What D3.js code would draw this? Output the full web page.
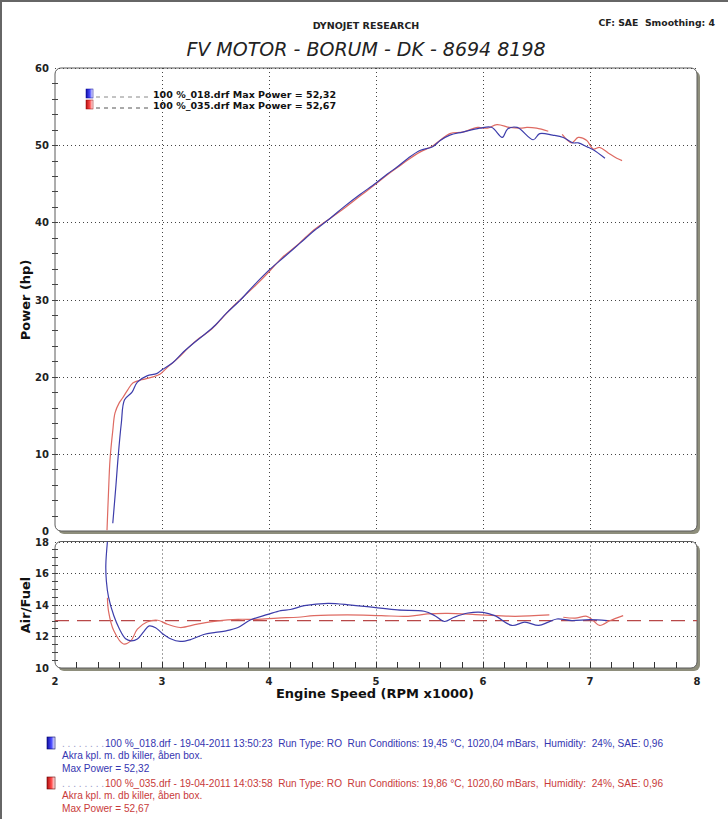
<!DOCTYPE html>
<html><head><meta charset="utf-8">
<script src="https://cdn.jsdelivr.net/npm/d3@7"></script>
<style>body{margin:0;background:#fff}svg{display:block}text{white-space:pre}</style>
</head><body><div id="chart"></div>
<script>
// ---- data (rpm x1000, value) ----
const powerBlue = [[2.54,1.0],[2.57,6.0],[2.59,9.6],[2.62,14.0],[2.65,17.0],[2.72,18.0],[2.77,19.3],[2.86,20.1],[2.95,20.4],[3.0,20.9],[3.1,21.8],[3.2,23.2],[3.3,24.4],[3.4,25.5],[3.5,26.7],[3.6,28.2],[3.73,29.9],[3.85,31.7],[4.0,33.8],[4.15,35.6],[4.29,37.3],[4.43,39.0],[4.57,40.5],[4.7,42.0],[4.85,43.6],[5.0,45.1],[5.1,46.2],[5.2,47.2],[5.3,48.3],[5.41,49.3],[5.53,49.8],[5.6,50.6],[5.69,51.3],[5.81,51.7],[5.97,52.2],[6.08,52.32],[6.18,51.0],[6.23,52.1],[6.32,52.3],[6.47,50.7],[6.53,51.5],[6.65,51.3],[6.75,51.0],[6.84,50.3],[6.89,50.3],[6.97,49.8],[7.03,49.4],[7.14,48.3]];
const powerRed = [[2.486,0.1],[2.5,5.0],[2.514,9.2],[2.54,13.0],[2.561,15.3],[2.6,16.6],[2.63,17.2],[2.68,18.3],[2.73,19.2],[2.81,19.6],[2.9,19.9],[2.98,20.3],[3.05,21.2],[3.15,22.4],[3.25,23.8],[3.35,25.0],[3.45,26.0],[3.55,27.4],[3.65,28.9],[3.75,30.2],[3.88,31.9],[4.0,33.6],[4.12,35.4],[4.26,37.0],[4.4,38.8],[4.55,40.3],[4.7,41.8],[4.85,43.4],[5.0,45.0],[5.1,46.1],[5.2,47.1],[5.3,48.1],[5.41,49.1],[5.53,49.9],[5.69,51.5],[5.81,51.7],[5.95,52.3],[6.04,52.2],[6.13,52.67],[6.25,52.3],[6.35,52.2],[6.41,52.3],[6.5,52.2],[6.61,51.8],[6.67,null],[6.74,51.4],[6.83,50.3],[6.89,51.0],[6.97,50.6],[7.03,49.5],[7.09,49.7],[7.17,49.0],[7.25,48.3],[7.3,48.0]];
const afrBlue = [[2.49,18.0],[2.475,16.5],[2.48,15.5],[2.5,14.5],[2.55,13.3],[2.6,12.5],[2.66,11.85],[2.71,11.72],[2.77,11.83],[2.83,12.3],[2.88,12.66],[2.94,12.55],[3.0,12.2],[3.08,11.85],[3.17,11.68],[3.27,11.8],[3.39,12.12],[3.5,12.25],[3.6,12.35],[3.71,12.56],[3.83,13.05],[3.99,13.39],[4.11,13.63],[4.2,13.7],[4.33,13.94],[4.55,14.09],[4.77,13.98],[4.98,13.84],[5.2,13.67],[5.45,13.59],[5.55,13.31],[5.64,12.94],[5.73,13.21],[5.86,13.48],[6.0,13.52],[6.11,13.31],[6.27,12.69],[6.39,12.9],[6.52,12.69],[6.61,12.9],[6.69,13.1],[6.83,13.0],[7.0,13.06],[7.16,13.0]];
const afrRed = [[2.49,14.44],[2.5,13.6],[2.55,12.35],[2.64,11.52],[2.71,11.73],[2.77,12.46],[2.86,12.91],[2.96,13.02],[3.05,12.77],[3.17,12.56],[3.33,12.77],[3.52,12.98],[3.71,13.08],[3.89,13.08],[4.08,13.16],[4.27,13.21],[4.42,13.31],[4.73,13.36],[5.05,13.31],[5.3,13.27],[5.48,13.42],[5.67,13.46],[5.98,13.36],[6.3,13.27],[6.62,13.36],[6.68,null],[6.75,13.21],[6.86,13.15],[6.97,13.27],[7.03,13.0],[7.09,12.69],[7.19,13.0],[7.31,13.31]];
const afrTarget = 13.0;
const xTicks = [2,3,4,5,6,7,8];
const powerTicks = [0,10,20,30,40,50,60];
const afrTicks = [10,12,14,16,18];
const runs = [
  {name:"100 %_018.drf", max:"52,32", line:"100 %_018.drf - 19-04-2011 13:50:23  Run Type: RO  Run Conditions: 19,45 \u00B0C, 1020,04 mBars,  Humidity:  24%, SAE: 0,96"},
  {name:"100 %_035.drf", max:"52,67", line:"100 %_035.drf - 19-04-2011 14:03:58  Run Type: RO  Run Conditions: 19,86 \u00B0C, 1020,60 mBars,  Humidity:  24%, SAE: 0,96"}
];
const note = "Akra kpl. m. db killer, \u00E5ben box.";

// ---- drawing ----
const W=728,H=819;
const svg=d3.select("#chart").append("svg").attr("width",W).attr("height",H);
const BLUE="#3d3dab", RED="#de6a62";
const TXTBLUE="#3535b0", TXTRED="#c83a3a";
const bold="'DejaVu Sans', Verdana, sans-serif";

// page border
svg.append("line").attr("x1",0).attr("x2",W).attr("y1",1).attr("y2",1).attr("stroke","#666").attr("stroke-width",2);
svg.append("line").attr("x1",1).attr("x2",1).attr("y1",0).attr("y2",H).attr("stroke","#666").attr("stroke-width",2);

const x=d3.scaleLinear().domain([2,8]).range([55,697]);
const yP=d3.scaleLinear().domain([0,60]).range([531,68]);
const yA=d3.scaleLinear().domain([10,18]).range([668,541.5]);

const defs=svg.append("defs");
function grad(id,c1,c2){
  const g=defs.append("linearGradient").attr("id",id).attr("x1","0").attr("x2","1").attr("y1","0").attr("y2","0");
  g.append("stop").attr("offset","0").attr("stop-color",c1);
  g.append("stop").attr("offset","0.55").attr("stop-color",c2);
  g.append("stop").attr("offset","1").attr("stop-color","#ffffff");
}
grad("gB","#1010a0","#4a4aff");
grad("gR","#b01010","#ff4a4a");

function panel(y0,y1,ys,yticks,minorStep,clipId){
  const x0=x.range()[0], x1=x.range()[1];
  svg.append("rect").attr("x",x0+3).attr("y",y0+3).attr("width",x1-x0).attr("height",y1-y0)
    .attr("rx",6).attr("fill","#8e8e7c");
  svg.append("rect").attr("x",x0).attr("y",y0).attr("width",x1-x0).attr("height",y1-y0)
    .attr("rx",6).attr("fill","#fff").attr("stroke","#5a5a5a").attr("stroke-width",1);
  const g=svg.append("g");
  g.selectAll(".vg").data(xTicks.filter(d=>d>2&&d<8)).enter().append("line")
    .attr("x1",d=>x(d)+0.5).attr("x2",d=>x(d)+0.5).attr("y1",y0).attr("y2",y1)
    .attr("stroke","#444").attr("stroke-dasharray","1,3");
  g.selectAll(".hg").data(yticks.filter(d=>d>ys.domain()[0])).enter().append("line")
    .attr("x1",x0).attr("x2",x1).attr("y1",d=>Math.round(ys(d))+0.5).attr("y2",d=>Math.round(ys(d))+0.5)
    .attr("stroke","#444").attr("stroke-dasharray","1,3");
  const lo=ys.domain()[0], hi=ys.domain()[1];
  const minors=d3.range(lo+minorStep,hi,minorStep);
  g.selectAll(".mt").data(minors).enter().append("line")
    .attr("x1",x0-3).attr("x2",x0+3).attr("y1",d=>Math.round(ys(d))+0.5).attr("y2",d=>Math.round(ys(d))+0.5)
    .attr("stroke","#444");
  svg.append("g").selectAll("text").data(yticks).enter().append("text")
    .attr("x",49).attr("y",d=>ys(d)+4).attr("text-anchor","end")
    .attr("font-family",bold).attr("font-weight","bold").attr("font-size",10).attr("fill","#222").text(d=>d);
  defs.append("clipPath").attr("id",clipId).append("rect").attr("x",x0).attr("y",y0).attr("width",x1-x0).attr("height",y1-y0);
}
panel(68,531,yP,powerTicks,2,"cp");
panel(541.5,668,yA,afrTicks,0.5,"ca");

svg.append("g").selectAll("line").data(d3.range(2.2,8,0.2)).enter().append("line")
  .attr("x1",d=>Math.round(x(d))+0.5).attr("x2",d=>Math.round(x(d))+0.5).attr("y1",668).attr("y2",662)
  .attr("stroke","#333");
svg.append("g").selectAll("text").data(xTicks).enter().append("text")
  .attr("x",d=>x(d)).attr("y",685).attr("text-anchor","middle")
  .attr("font-family",bold).attr("font-weight","bold").attr("font-size",10).attr("fill","#222").text(d=>d);

const line=(ys)=>d3.line().defined(d=>d[1]!==null).x(d=>x(d[0])).y(d=>ys(d[1])).curve(d3.curveCatmullRom.alpha(0.5));
const pg=svg.append("g").attr("clip-path","url(#cp)");
pg.append("path").datum(powerRed).attr("d",line(yP)).attr("fill","none").attr("stroke",RED).attr("stroke-width",1.2);
pg.append("path").datum(powerBlue).attr("d",line(yP)).attr("fill","none").attr("stroke",BLUE).attr("stroke-width",1.2);
const ag=svg.append("g").attr("clip-path","url(#ca)");
ag.append("line").attr("x1",x(2)).attr("x2",x(8)).attr("y1",yA(afrTarget)).attr("y2",yA(afrTarget))
  .attr("stroke","#b84848").attr("stroke-width",1.3).attr("stroke-dasharray","14,8");
ag.append("path").datum(afrRed).attr("d",line(yA)).attr("fill","none").attr("stroke",RED).attr("stroke-width",1.2);
ag.append("path").datum(afrBlue).attr("d",line(yA)).attr("fill","none").attr("stroke",BLUE).attr("stroke-width",1.2);

const lg=svg.append("g");
runs.forEach((r,i)=>{
  const yy=89+i*11;
  lg.append("rect").attr("x",86).attr("y",yy).attr("width",7).attr("height",9).attr("fill",i?"url(#gR)":"url(#gB)").attr("stroke",i?"#900":"#009").attr("stroke-width",0.5);
  lg.append("line").attr("x1",96).attr("x2",150).attr("y1",yy+8).attr("y2",yy+8)
    .attr("stroke",i?"#555":"#888").attr("stroke-dasharray","4,4").attr("stroke-width",1);
  lg.append("text").attr("x",153).attr("y",yy+9).attr("font-family",bold).attr("font-weight","bold")
    .attr("font-size",9.5).attr("fill","#111").text(r.name+" Max Power = "+r.max);
});

svg.append("text").attr("x",366).attr("y",29).attr("text-anchor","middle").attr("font-family",bold)
  .attr("font-weight","bold").attr("font-size",9.5).attr("fill","#222").text("DYNOJET RESEARCH");
svg.append("text").attr("x",715).attr("y",26).attr("text-anchor","end").attr("font-family",bold)
  .attr("font-weight","bold").attr("font-size",9.3).attr("fill","#222").text("CF: SAE  Smoothing: 4");
svg.append("text").attr("x",366).attr("y",56).attr("text-anchor","middle").attr("font-family",bold)
  .attr("font-style","italic").attr("font-size",19).attr("fill","#222").text("FV MOTOR - BORUM - DK - 8694 8198");
svg.append("text").attr("transform","translate(30,300) rotate(-90)").attr("text-anchor","middle")
  .attr("font-family",bold).attr("font-weight","bold").attr("font-size",13).attr("fill","#111").text("Power (hp)");
svg.append("text").attr("transform","translate(30,605) rotate(-90)").attr("text-anchor","middle")
  .attr("font-family",bold).attr("font-weight","bold").attr("font-size",13).attr("fill","#111").text("Air/Fuel");
svg.append("text").attr("x",375).attr("y",698).attr("text-anchor","middle")
  .attr("font-family",bold).attr("font-weight","bold").attr("font-size",13).attr("fill","#111").text("Engine Speed (RPM x1000)");

const nf="'Liberation Sans Narrow', 'Liberation Sans', Arial, sans-serif";
runs.forEach((r,i)=>{
  const y0=737+i*40;
  const col=i?TXTRED:TXTBLUE;
  svg.append("rect").attr("x",47).attr("y",y0).attr("width",8).attr("height",12).attr("fill",i?"url(#gR)":"url(#gB)").attr("stroke",i?"#600":"#006").attr("stroke-width",0.6);
  svg.append("text").attr("x",62).attr("y",y0+10).attr("font-family",nf).attr("font-size",10.1).attr("fill","#9a9ac8").text(". . . . . . . .");
  svg.append("text").attr("x",105).attr("y",y0+10).attr("font-family",nf).attr("font-size",10.1).attr("fill",col).text(r.line);
  svg.append("text").attr("x",62).attr("y",y0+22).attr("font-family",nf).attr("font-size",10.1).attr("fill",col).text(note);
  svg.append("text").attr("x",62).attr("y",y0+35).attr("font-family",nf).attr("font-size",10.1).attr("fill",col).text("Max Power = "+r.max);
});
</script></body></html>
